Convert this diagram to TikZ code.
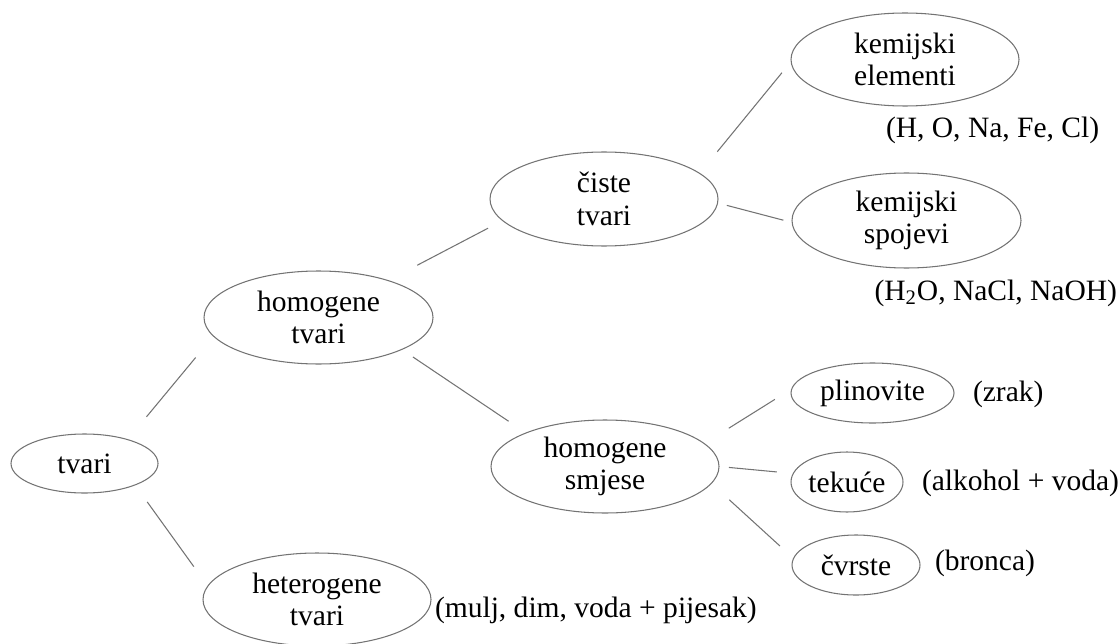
\documentclass[tikz,border=0pt]{standalone}
\usepackage{fontspec}
\setmainfont{Liberation Serif}
\usetikzlibrary{shapes.geometric}

\begin{document}
\begin{tikzpicture}[
        %Options for bubbles and links%
        inner sep=0pt,%
        outer sep=0pt,%
        every node/.style={font=\fontsize{16.8}{18.6}\selectfont, text=black},%
        bubble/.style={ellipse, draw=black!55, line width=0.6pt,
            minimum width=4.56cm, minimum height=1.86cm, align=center},%
        small bubble/.style={bubble, minimum height=1.2cm},%
        example/.style={anchor=base west},%
        link/.style={draw=black!55, line width=0.6pt}%
    ]
    %% page size
    \useasboundingbox (0,0) rectangle (22.38,-12.88);
    %
    %% first level
    \node[small bubble, minimum width=2.94cm, minimum height=1.18cm] (tvari) at (1.69,-9.27) {tvari};
    %
    %% second level
    \node[bubble, minimum width=4.58cm] (homtv) at (6.37,-6.35) {homogene\\tvari};
    \node[bubble] (hettv) at (6.34,-11.99) {heterogene\\tvari};
    %
    %% third level
    \node[bubble, minimum height=1.88cm] (ciste) at (12.08,-3.98) {čiste\\tvari};
    \node[bubble] (homsm) at (12.10,-9.33) {homogene\\smjese};
    %
    %% fourth level
    \node[bubble] (kemel) at (18.10,-1.19) {kemijski\\elementi};
    \node[bubble, minimum width=4.58cm, minimum height=1.90cm] (kemsp) at (18.13,-4.41) {kemijski\\spojevi};
    \node[small bubble, minimum width=3.26cm] (plin) at (17.45,-7.86) {plinovite};
    \node[small bubble, minimum width=2.24cm] (tek)  at (16.94,-9.64) {tekuće};
    \node[small bubble, minimum width=2.56cm] (cvr)  at (17.12,-11.30) {čvrste};
    %
    %% examples
    \node[example] (exel)  at (17.72,-2.76)  {(H, O, Na, Fe, Cl)};
    \node[example, anchor=base east] (exsp) at (22.34,-6.00) {(H\textsubscript{2}O, NaCl, NaOH)};
    \node[example] (explin) at (19.46,-8.02) {(zrak)};
    \node[example] (extek) at (18.44,-9.80)  {(alkohol + voda)};
    \node[example] (excvr) at (18.70,-11.40) {(bronca)};
    \node[example] (exhet) at (8.70,-12.34)  {(mulj, dim, voda + pijesak)};
    %
    %% links (from / to / gap at start / gap at end)
    \foreach \a/\b/\s/\t in {tvari.29/homtv.190/0.59/0.56,
                             tvari.-23/hettv.173/0.42/0.48,
                             homtv.28/ciste.192/0.66/0.33,
                             homtv.-21/homsm.157/0.27/0.42,
                             ciste.15/kemel.181/0.56/0.29,
                             ciste.-2/kemsp.181/0.19/0.18,
                             homsm.13/plin.177/0.58/0.40,
                             homsm.0/tek.171/0.20/0.33,
                             homsm.-9/cvr.174/0.49/0.37}{
        \draw[link, shorten <=\s cm, shorten >=\t cm] (\a) -- (\b);
    }
\end{tikzpicture}
\end{document}
